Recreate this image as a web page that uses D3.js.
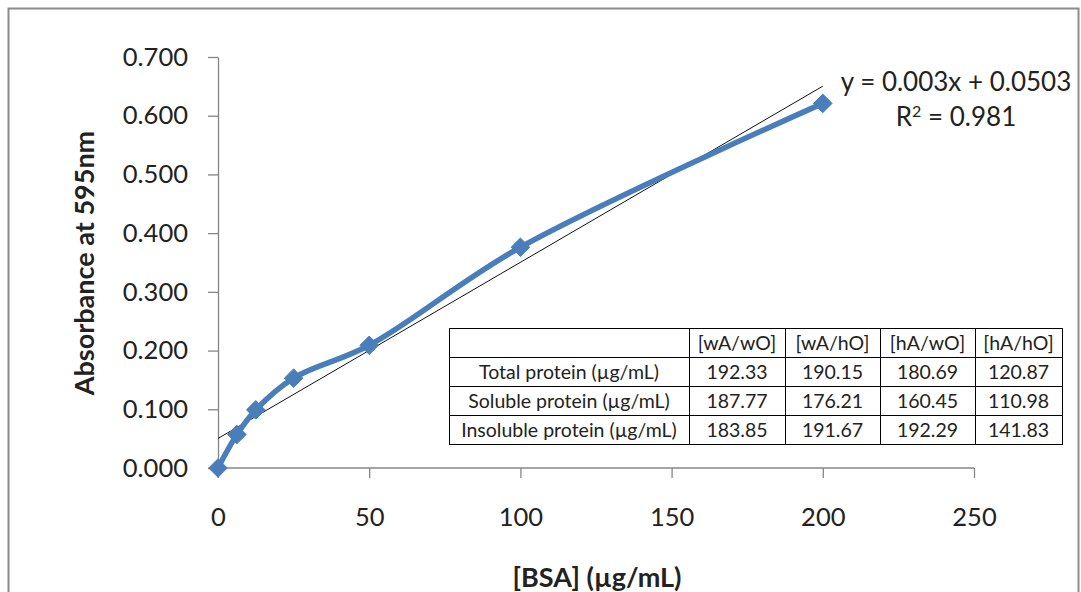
<!DOCTYPE html>
<html>
<head>
<meta charset="utf-8">
<script src="https://cdn.jsdelivr.net/npm/d3@7"></script>
<style>
  body { margin: 0; background: #fff; }
  svg text { font-family: Lato, "Open Sans", sans-serif; fill: #222; }
</style>
</head>
<body>
<div id="chart"></div>
<script>
// BSA standard curve
const bsa = [0, 6.25, 12.5, 25, 50, 100, 200];
const absorbance = [0.000, 0.057, 0.099, 0.153, 0.209, 0.376, 0.621];

// trendline as printed on the chart
const slope = 0.003;
const intercept = 0.0503;
const rSquared = 0.981;

const xTicks = [0, 50, 100, 150, 200, 250];
const yTicks = [0, 0.1, 0.2, 0.3, 0.4, 0.5, 0.6, 0.7];

// table in the plot
const tableCols = ["[wA/wO]", "[wA/hO]", "[hA/wO]", "[hA/hO]"];
const tableRows = ["Total protein (\u00b5g/mL)", "Soluble protein (\u00b5g/mL)", "Insoluble protein (\u00b5g/mL)"];
const totalProtein = [192.33, 190.15, 180.69, 120.87];
const solubleProtein = [187.77, 176.21, 160.45, 110.98];
const insolubleProtein = [183.85, 191.67, 192.29, 141.83];

const W = 1081, H = 592;

const svg = d3.select("#chart").append("svg")
  .attr("width", W)
  .attr("height", H);

// chart area frame
svg.append("rect")
  .attr("x", 8.5).attr("y", 8.5)
  .attr("width", 1070).attr("height", 600)
  .attr("fill", "#fff")
  .attr("stroke", "#8c8c8c")
  .attr("stroke-width", 2);

const x = d3.scaleLinear().domain([0, 250]).range([218, 974]);
const y = d3.scaleLinear().domain([0, 0.7]).range([468, 57]);

// axes
const yAxis = svg.append("g")
  .attr("transform", "translate(" + x(0) + ",0)")
  .call(d3.axisLeft(y).tickValues(yTicks).tickFormat(d3.format(".3f")).tickSize(10).tickSizeOuter(0).tickPadding(20));

const xAxis = svg.append("g")
  .attr("transform", "translate(0," + y(0) + ")")
  .call(d3.axisBottom(x).tickValues(xTicks).tickSize(10).tickSizeOuter(0).tickPadding(30));

[xAxis, yAxis].forEach(a => {
  a.select(".domain").attr("stroke", "#868686").attr("stroke-width", 1.3);
  a.selectAll(".tick line").attr("stroke", "#868686").attr("stroke-width", 1.3);
  a.selectAll(".tick text")
    .attr("font-family", "Lato, 'Open Sans', sans-serif")
    .attr("font-size", 25.5)
    .attr("fill", "#222");
});
xAxis.select(".domain").attr("d", "M" + x(0) + ",0H" + x(250));

// axis titles
svg.append("text")
  .attr("transform", "translate(94,263) rotate(-90)")
  .attr("text-anchor", "middle")
  .attr("font-size", 27)
  .attr("font-weight", "bold")
  .text("Absorbance at 595nm");

svg.append("text")
  .attr("x", 597).attr("y", 587)
  .attr("text-anchor", "middle")
  .attr("font-size", 27)
  .attr("font-weight", "bold")
  .text("[BSA] (\u00b5g/mL)");

// table
const ty = 328.5;
const colEdges = [449, 689, 785, 880, 975, 1062];
const rowH = 29;
const table = svg.append("g");
const cells = [null, totalProtein, solubleProtein, insolubleProtein];

for (let r = 0; r < 4; r++) {
  for (let c = 0; c < 5; c++) {
    table.append("rect")
      .attr("x", colEdges[c] + 0.5)
      .attr("y", ty + r * rowH)
      .attr("width", colEdges[c + 1] - colEdges[c])
      .attr("height", rowH)
      .attr("fill", "#fff")
      .attr("stroke", "#000")
      .attr("stroke-width", 1);
    let label = "";
    if (r === 0 && c > 0) label = tableCols[c - 1];
    else if (r > 0 && c === 0) label = tableRows[r - 1];
    else if (r > 0) label = cells[r][c - 1].toFixed(2);
    if (label) {
      table.append("text")
        .attr("x", (colEdges[c] + colEdges[c + 1]) / 2)
        .attr("y", ty + r * rowH + rowH / 2 + 6.5)
        .attr("text-anchor", "middle")
        .attr("font-size", 19.5)
        .text(label);
    }
  }
}

// linear trendline
svg.append("line")
  .attr("x1", x(0)).attr("y1", y(intercept))
  .attr("x2", x(200)).attr("y2", y(slope * 200 + intercept))
  .attr("stroke", "#111")
  .attr("stroke-width", 1);

// smoothed series
const pts = bsa.map((d, i) => [d, absorbance[i]]);
svg.append("path")
  .datum(pts)
  .attr("fill", "none")
  .attr("stroke", "#4a7ebb")
  .attr("stroke-width", 5.5)
  .attr("stroke-linejoin", "round")
  .attr("d", d3.line().x(d => x(d[0])).y(d => y(d[1])).curve(d3.curveCatmullRom.alpha(0.5)));

svg.selectAll("path.marker")
  .data(pts)
  .enter()
  .append("path")
  .attr("class", "marker")
  .attr("transform", d => "translate(" + x(d[0]) + "," + y(d[1]) + ")")
  .attr("d", d3.symbol().type(d3.symbolDiamond2).size(220))
  .attr("fill", "#4a7ebb")
  .attr("stroke", "#4a7ebb")
  .attr("stroke-width", 1);

// trendline label
svg.append("text")
  .attr("x", 956).attr("y", 91)
  .attr("text-anchor", "middle")
  .attr("font-size", 26)
  .text("y = " + slope.toFixed(3) + "x + " + intercept);

const r2 = svg.append("text")
  .attr("x", 956).attr("y", 126)
  .attr("text-anchor", "middle")
  .attr("font-size", 26);
r2.append("tspan").text("R");
r2.append("tspan").attr("dy", -9).attr("font-size", 16).text("2");
r2.append("tspan").attr("dy", 9).text(" = " + rSquared);
</script>
</body>
</html>
